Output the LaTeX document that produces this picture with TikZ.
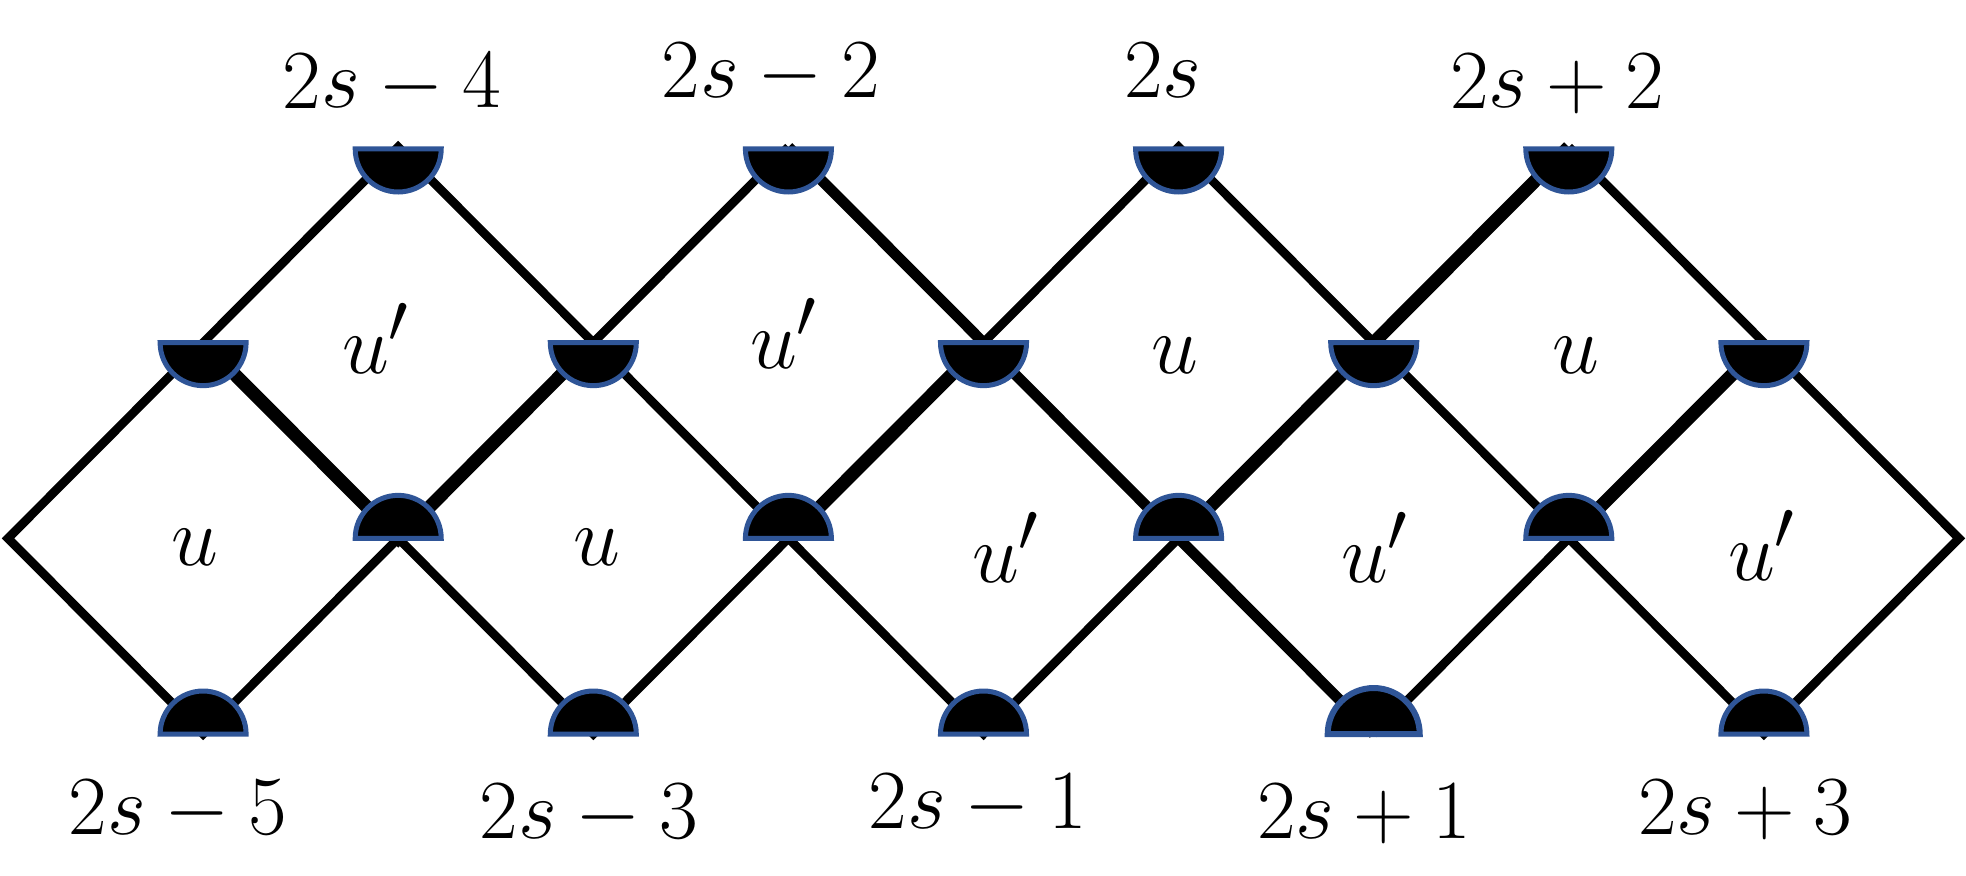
\documentclass[tikz,border=0pt]{standalone}
\definecolor{hdblue}{RGB}{47,85,151}
\newcommand{\halfdown}[3][21.5]{\filldraw[hdisc] ([xshift=-#1pt,yshift=#3]#2) arc[start angle=180,end angle=360,radius=#1pt] -- cycle;}
\newcommand{\halfup}[3][21.5]{\filldraw[hdisc] ([xshift=-#1pt,yshift=#3]#2) arc[start angle=180,end angle=0,radius=#1pt] -- cycle;}
\newcommand{\labmath}[1]{\scalebox{1.69}{\Huge$#1$}}
\begin{document}
\begin{tikzpicture}[x=0.5pt,y=0.5pt,
  edge/.style={line width=4.4pt, black, line join=miter},
  medge/.style={edge, line width=5.4pt},
  kedge/.style={edge, line width=6.6pt},
  hdisc/.style={fill=black, draw=hdblue, line width=2.5pt},
  lab/.style={inner sep=0pt, anchor=base}]
\useasboundingbox (0,0) rectangle (1966,875);
% lattice points
\foreach \i/\j in {0/2,10/2,2/0,4/0,6/0,8/0,1/1,3/1,5/1,7/1,9/1,2/2,4/2,6/2,8/2,1/3,3/3,5/3,7/3,9/3}
  \coordinate (v-\i-\j) at ({8+195.1*\i},{728-195.67*\j});
% thin edges
\draw[edge] (v-1-1) -- (v-0-2) -- (v-1-3) -- (v-2-2) -- (v-3-3) -- (v-4-2) -- (v-5-3) -- (v-6-2);
\draw[edge] (v-7-3) -- (v-8-2) -- (v-9-3) -- (v-10-2) -- (v-9-1) -- (v-8-0);
\draw[edge] (v-1-1) -- (v-2-0) -- (v-3-1) -- (v-4-0);
\draw[edge] (v-3-1) -- (v-4-2);
\draw[edge] (v-5-1) -- (v-6-0) -- (v-7-1) -- (v-8-2);
% medium edges
\draw[medge] (v-4-0) -- (v-5-1) -- (v-6-2) -- (v-7-3);
% thick edges
\draw[kedge] (v-1-1) -- (v-2-2) -- (v-3-1);
\draw[kedge] (v-4-2) -- (v-5-1);
\draw[kedge] (v-6-2) -- (v-7-1) -- (v-8-0);
\draw[kedge] (v-8-2) -- (v-9-1);
% half discs
\foreach \i in {2,4,6,8} {\halfdown{v-\i-0}{-1pt}}
\foreach \i in {1,3,5,7,9} {\halfdown{v-\i-1}{0pt}}
\foreach \i in {2,4,6,8} {\halfup{v-\i-2}{0pt}}
\foreach \i in {1,3,5,9} {\halfup{v-\i-3}{0pt}}
\filldraw[hdisc, line width=3pt] ([xshift=-23pt]v-7-3) arc[start angle=180,end angle=0,radius=23pt] -- cycle;
% top labels
\node[lab] (t1) at (392,767) {\labmath{2s-4}};
\node[lab] (t2) at (771,777) {\labmath{2s-2}};
\node[lab] (t3) at (1163,777) {\labmath{2s}};
\node[lab] (t4) at (1557,767) {\labmath{2s+2}};
% bottom labels
\node[lab] (b1) at (178,41) {\labmath{2s-5}};
\node[lab] (b2) at (589,37) {\labmath{2s-3}};
\node[lab] (b3) at (978,47) {\labmath{2s-1}};
\node[lab] (b4) at (1364,37) {\labmath{2s+1}};
\node[lab] (b5) at (1745,41) {\labmath{2s+3}};
% face labels
\node[lab] (f1) at (376,502) {\labmath{u'}};
\node[lab] (f2) at (784,507) {\labmath{u'}};
\node[lab] (f3) at (1175,502) {\labmath{u}};
\node[lab] (f4) at (1576,502) {\labmath{u}};
\node[lab] (g1) at (195,310) {\labmath{u}};
\node[lab] (g2) at (597,310) {\labmath{u}};
\node[lab] (g3) at (1006,293) {\labmath{u'}};
\node[lab] (g4) at (1375,293) {\labmath{u'}};
\node[lab] (g5) at (1762,295) {\labmath{u'}};
\end{tikzpicture}
\end{document}
